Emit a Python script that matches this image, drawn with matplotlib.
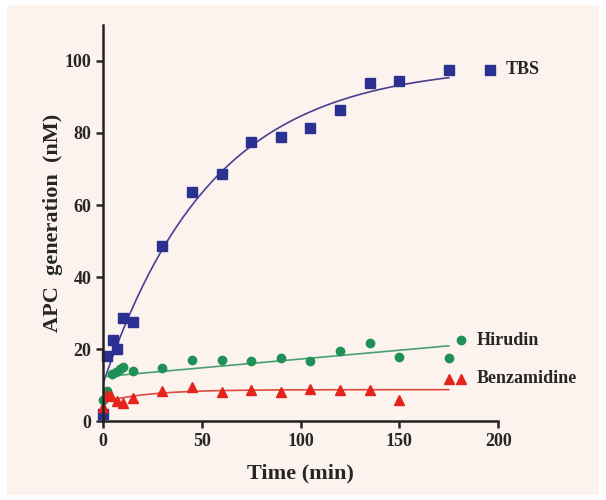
import numpy as np
import matplotlib.pyplot as plt
from matplotlib.patches import Rectangle

# time points (min)
t_tbs = [0, 2, 5, 7, 10, 15, 30, 45, 60, 75, 90, 105, 120, 135, 150, 175]
tbs = [2, 18, 22.5, 20, 28.5, 27.5, 48.5, 63.5, 68.5, 77.5, 79, 81.5, 86.5, 94, 94.5, 97.5]

t_hir = [0, 2, 4.5, 6.5, 8.5, 10, 15, 30, 45, 60, 75, 90, 105, 120, 135, 150, 175]
hirudin = [5.8, 8.2, 13, 13.6, 14.5, 15.1, 13.9, 14.6, 16.9, 16.9, 16.6, 17.4, 16.7, 19.5, 21.8, 17.8, 17.6]

t_ben = [0, 2, 4, 7, 10, 15, 30, 45, 60, 75, 90, 105, 120, 135, 150, 175]
benz = [4, 7.2, 7, 5.6, 5.1, 6.5, 8.2, 9.4, 8, 8.6, 8, 8.9, 8.6, 8.6, 5.8, 11.7]

labels = ['TBS', 'Hirudin', 'Benzamidine']


def fit_exp(t, y):
    # y = P - A*exp(-k t), grid over k, linear solve for P, A
    t = np.asarray(t, float)
    y = np.asarray(y, float)
    best = None
    for k in np.linspace(0.002, 0.5, 2000):
        M = np.column_stack([np.ones_like(t), -np.exp(-k * t)])
        coef, res, _, _ = np.linalg.lstsq(M, y, rcond=None)
        err = np.sum((M @ coef - y) ** 2)
        if best is None or err < best[0]:
            best = (err, k, coef)
    _, k, (P, A) = best
    return lambda x: P - A * np.exp(-k * x)


bg = '#fcf3ef'
fig = plt.figure(figsize=(6.06, 5.0), dpi=100)
fig.patch.set_facecolor('white')
fig.patches.append(Rectangle((0.012, 0.01), 0.976, 0.98, transform=fig.transFigure,
                             facecolor=bg, edgecolor='none', zorder=-10))
ax = fig.add_axes([0.170, 0.158, 0.652, 0.792])
ax.set_facecolor(bg)

blue = '#2b3190'
green = '#1f9157'
red = '#e5231d'

tt = np.linspace(0, 175, 300)
f_tbs = fit_exp(t_tbs, tbs)
ax.plot(tt, f_tbs(tt), color='#4b3f91', lw=1.2)
p = np.polyfit(t_hir, hirudin, 1)
ax.plot(tt, np.polyval(p, tt), color='#4a9e72', lw=1.2)
f_ben = fit_exp(t_ben, benz)
ax.plot(tt, f_ben(tt), color='#dc4a40', lw=1.2)

ax.plot(t_tbs, tbs, 's', color=blue, ms=7.2, ls='none', clip_on=False)
ax.plot(t_hir, hirudin, 'o', color=green, ms=6, ls='none', clip_on=False)
ax.plot(t_ben, benz, '^', color=red, ms=6.5, ls='none', clip_on=False)

# manual legend next to curves
ax.plot([196], [97.5], 's', color=blue, ms=6.5, clip_on=False)
ax.plot([181], [22.4], 'o', color=green, ms=6, clip_on=False)
ax.plot([181], [11.7], '^', color=red, ms=6.5, clip_on=False)
tfont = dict(family='Liberation Serif', fontsize=13, fontweight='bold', color='#262626')
ax.text(204, 97.5, labels[0], va='center', ha='left', **tfont)
ax.text(189, 22.4, labels[1], va='center', ha='left', **tfont)
ax.text(189, 11.7, labels[2], va='center', ha='left', **tfont)

ax.set_xlim(0, 200)
ax.set_ylim(0, 110)
ax.set_xticks([0, 50, 100, 150, 200])
ax.set_yticks([0, 20, 40, 60, 80, 100])
for s in ['top', 'right']:
    ax.spines[s].set_visible(False)
for s in ['left', 'bottom']:
    ax.spines[s].set_linewidth(1.8)
    ax.spines[s].set_color('#222222')
ax.tick_params(direction='out', length=5, width=1.8, colors='#262626', labelsize=13)
for lab in ax.get_xticklabels() + ax.get_yticklabels():
    lab.set_family('Liberation Serif')
    lab.set_fontweight('bold')
ax.set_xlabel('Time (min)', family='Liberation Serif', fontsize=16, fontweight='bold',
              color='#262626', labelpad=10)
ax.set_ylabel('APC  generation  (nM)', family='Liberation Serif', fontsize=16,
              fontweight='bold', color='#262626', labelpad=1)

fig.savefig('out.png', dpi=100, facecolor=fig.get_facecolor())
